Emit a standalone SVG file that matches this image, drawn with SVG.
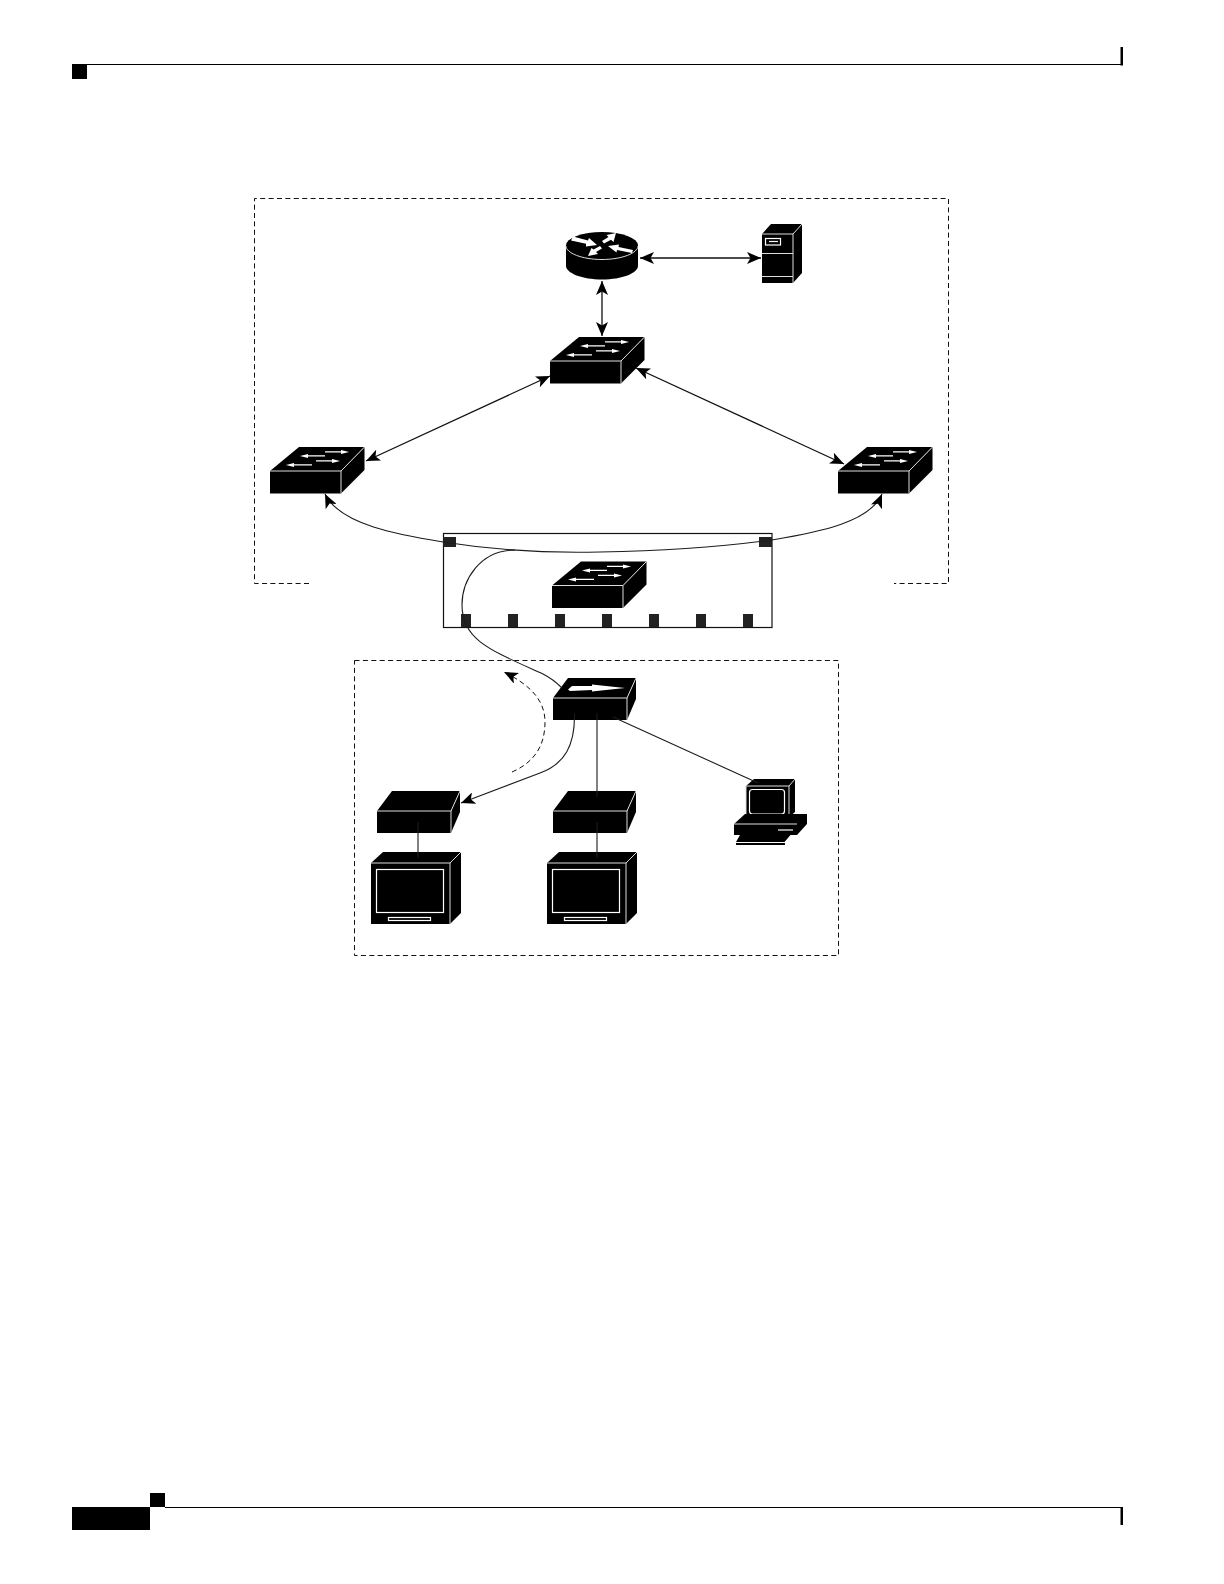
<svg xmlns="http://www.w3.org/2000/svg" width="1224" height="1584" viewBox="0 0 1224 1584">
<style>
.k{fill:#000}
.edge{fill:none;stroke:#ddd;stroke-width:1}
.wl{fill:none;stroke:#fff;stroke-width:1.2}
.dash{fill:none;stroke:#111;stroke-width:1;stroke-dasharray:5 3.4}
.link{fill:none;stroke:#111;stroke-width:1.3}
.wire{fill:none;stroke:#1c1c1c;stroke-width:1.1}
.port{fill:#222}
.fh{fill:#fff}
</style>
<defs>
<marker id="ah" markerUnits="userSpaceOnUse" viewBox="0 0 14 12" refX="14" refY="6" markerWidth="14" markerHeight="12" orient="auto-start-reverse"><path d="M14 6L0 0L3.500 6L0 12Z" fill="#000"/></marker>
<g id="sw">
<path class="k" d="M0 0H71L94.500 -24V-1L71 22.500H0Z"/>
<path class="k" d="M0 0L29 -24H94.500L71 0Z"/>
<path class="edge" d="M0 0H71V22.500M71 0L94.500 -24"/>
<path class="fh" d="M30 -15L38 -17V-15.800H55V-14.400H38V-13Z"/>
<path class="fh" d="M79 -19L71 -21V-19.800H55V-18.400H71V-17Z"/>
<path class="fh" d="M16 -6L24 -8V-6.800H42V-5.400H24V-4Z"/>
<path class="fh" d="M70 -10L62 -12V-10.800H46V-9.400H62V-8Z"/>
</g>
<g id="box">
<path class="k" d="M0 0H74L83 -20V1L74 22H0Z"/>
<path class="k" d="M0 0L15 -20H83L74 0Z"/>
<path class="edge" d="M0 0H74V22M74 0L83 -20"/>
</g>
<g id="mon">
<path class="k" d="M0 0V61H79L90 50V-11H12Z"/>
<path class="edge" d="M0 0H79V61M79 0L90 -11"/>
<rect class="wl" x="5.500" y="6.500" width="67" height="43"/>
<rect class="wl" x="17.500" y="54.500" width="42" height="3"/>
</g>
</defs>
<g id="page-frame">
<rect class="k" x="72" y="64" width="15" height="15"/>
<path d="M87 64.500H1122" fill="none" stroke="#000" stroke-width="1.2"/>
<rect class="k" x="1120.500" y="47" width="2.500" height="18.500"/>
<rect class="k" x="72" y="1507" width="78" height="23"/>
<rect class="k" x="150" y="1493" width="15" height="14"/>
<path d="M165 1507.500H1122" fill="none" stroke="#000" stroke-width="1.2"/>
<rect class="k" x="1120.500" y="1507" width="2.500" height="18"/>
</g>
<g id="regions">
<path class="dash" d="M309 583.500H254.500V198.500H948.500V583.500H894"/>
<rect class="dash" x="354.500" y="660.500" width="484" height="295"/>
</g>
<g id="module">
<rect x="443.500" y="533.500" width="328.500" height="94" fill="#fff" stroke="#111" stroke-width="1.2"/>
<rect class="port" x="443" y="537" width="13" height="10"/>
<rect class="port" x="759" y="537" width="13" height="10"/>
<rect class="port" x="461" y="614" width="10" height="13"/>
<rect class="port" x="508" y="614" width="10" height="13"/>
<rect class="port" x="555" y="614" width="10" height="13"/>
<rect class="port" x="602" y="614" width="10" height="13"/>
<rect class="port" x="649" y="614" width="10" height="13"/>
<rect class="port" x="696" y="614" width="10" height="13"/>
<rect class="port" x="743" y="614" width="10" height="13"/>
</g>
<g id="router">
<path class="k" d="M566 245.500V266C566 273 582 279.500 602 279.500S638 273 638 266V245.500Z"/>
<ellipse class="k" cx="602" cy="245.500" rx="36" ry="13.500"/>
<path class="edge" d="M566 246C566 253 582 259.500 602 259.500S638 253 638 246"/>
<path class="fh" d="M597 245L586 246.500L586 243.800L571 240.500L573 236.500L588 240.500L589 238Z"/>
<path class="fh" d="M616 233L613.500 242L611 239.800L604 243.500L602 241L608.500 237L606.500 235Z"/>
<path class="fh" d="M608 246L619 244.500L618.500 247L633 250L632 253L617 250L616.500 252.500Z"/>
<path class="fh" d="M588 256L591.500 248L593.500 249.500L600 246L602 248.500L596 252L598 254Z"/>
</g>
<g id="server">
<path class="k" d="M762 234L771 224H802V273L793 283H762Z"/>
<path class="edge" d="M762 234H793V283M793 234L802 224M762 253.500H793M762 276.500H793"/>
<rect class="wl" x="765.500" y="238.500" width="15" height="6.500"/>
<path class="wl" d="M769 241.500H778"/>
</g>
<g id="switch-core"><use href="#sw" x="550" y="361"/></g>
<g id="switch-left"><use href="#sw" x="270" y="471"/></g>
<g id="switch-right"><use href="#sw" x="838" y="471"/></g>
<g id="switch-module"><use href="#sw" x="552" y="585.500"/></g>
<g id="switch-access">
<use href="#box" x="553" y="698"/>
<path class="fh" d="M568 689.500L572 686H592V684.500L625 688L592 691.500V690L570 691Z"/>
</g>
<g id="device-1"><use href="#box" x="377" y="811"/></g>
<g id="device-2"><use href="#box" x="553" y="811"/></g>
<g id="monitor-1"><use href="#mon" x="371" y="863"/></g>
<g id="monitor-2"><use href="#mon" x="547" y="863"/></g>
<g id="pc">
<path class="k" d="M746 786L754 779H795V812L789 817H746Z"/>
<path class="edge" d="M746 786H789V817H746ZM789 786L795 779"/>
<rect class="wl" x="749.500" y="789.500" width="35" height="24.500" rx="3"/>
<path class="k" d="M734 824L745 814H807V824L797 835H734Z"/>
<path class="edge" d="M734 824H797"/>
<path class="wl" d="M778 830H793"/>
<path class="k" d="M736 842L740 835H791L785 842V845H736Z"/>
<path class="wl" d="M736 842.500H785L791 835.500"/>
</g>
<g id="connectors">
<path class="link" marker-start="url(#ah)" marker-end="url(#ah)" d="M640 258H761"/>
<path class="link" marker-start="url(#ah)" marker-end="url(#ah)" d="M602 281V336"/>
<path class="link" marker-start="url(#ah)" marker-end="url(#ah)" d="M366 461L550 376"/>
<path class="link" marker-start="url(#ah)" marker-end="url(#ah)" d="M636 368L844 464"/>
<path class="wire" marker-start="url(#ah)" marker-end="url(#ah)" d="M325 494C340 525 400 535 443 542C500 551 560 553 600 552C660 551 720 547 772 540C820 532 870 522 882 494"/>
<path class="wire" d="M515 550C480 550 462 580 462 605C462 640 490 650 543 674C553 679 558 684 562 688"/>
<path class="wire" marker-end="url(#ah)" d="M574.500 714C575 745 565 764 540 773L461 803"/>
<path class="dash" marker-end="url(#ah)" d="M512 772C535 762 545 745 545 722C545 700 530 685 504 672"/>
<path class="wire" d="M597 713V797M418 822V858M597 822V858M613 717L758 783"/>
</g>
</svg>
